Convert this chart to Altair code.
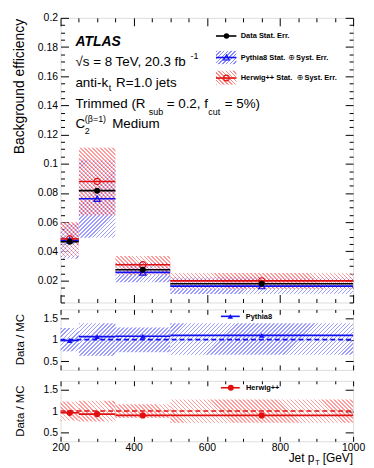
import altair as alt
import pandas as pd

# ---------------- data ----------------
bin_lo = [200, 250, 350, 500]
bin_hi = [250, 350, 500, 1000]
bin_mid = [225, 300, 425, 750]

data_eff = [0.0466, 0.0816, 0.0274, 0.0178]
pythia_eff = [0.0476, 0.0761, 0.0256, 0.0162]
pythia_band_lo = [0.0350, 0.0494, 0.0188, 0.0108]
pythia_band_hi = [0.0590, 0.1028, 0.0320, 0.0222]
herwig_eff = [0.0486, 0.0879, 0.0308, 0.0198]
herwig_band_lo = [0.0365, 0.0648, 0.0238, 0.0143]
herwig_band_hi = [0.0600, 0.1110, 0.0369, 0.0252]

ratio_pythia = [0.98, 1.07, 1.08, 1.10]
ratio_pythia_lo = [0.73, 0.63, 0.71, 0.65]
ratio_pythia_hi = [1.27, 1.38, 1.28, 1.38]
ratio_herwig = [0.96, 0.93, 0.90, 0.90]
ratio_herwig_lo = [0.78, 0.76, 0.84, 0.73]
ratio_herwig_hi = [1.22, 1.24, 1.16, 1.27]

x_major = [200, 400, 600, 800, 1000]
x_minor = [250, 300, 350, 450, 500, 550, 650, 700, 750, 850, 900, 950]
main_major = [0.02, 0.04, 0.06, 0.08, 0.1, 0.12, 0.14, 0.16, 0.18, 0.2]
main_minor = [0.005, 0.01, 0.015, 0.025, 0.03, 0.035, 0.045, 0.05, 0.055,
              0.065, 0.07, 0.075, 0.085, 0.09, 0.095, 0.105, 0.11, 0.115,
              0.125, 0.13, 0.135, 0.145, 0.15, 0.155, 0.165, 0.17, 0.175,
              0.185, 0.19, 0.195]
ratio_major = [0.5, 1.0, 1.5]

X_DOM = [200, 1000]
MAIN_DOM = [0.005, 0.2]
RATIO_DOM = [0.3, 1.7]

# ---------------- style ----------------
FONT = "Liberation Sans"
W = 295
H_MAIN = 287
H_RATIO = 61
BLUE = "#1010f0"
RED = "#e01010"
BLUE_HATCH = "#3c3cff"
RED_HATCH = "#ff3c3c"
HATCH_OP = 0.5
TS = 13.5  # label text size

xs = alt.Scale(domain=X_DOM, nice=False, zero=False)


def yscale(dom):
    return alt.Scale(domain=dom, nice=False, zero=False)


def hatch(w, h, color, direction, period=4.0, frac=0.4):
    """Striped linear gradient giving 45-degree hatching inside a w x h box."""
    n = max(1, int(round((w + h) / period)))
    s = (w + h) * w / (w * w + h * h)
    clear = "#ffffff"
    stops = []
    for i in range(n):
        a = i / n
        b = (i + frac) / n
        c = (i + 1) / n
        stops += [{"offset": a, "color": color}, {"offset": b, "color": color},
                  {"offset": b, "color": clear}, {"offset": c, "color": clear}]
    if direction == "/":
        return {"gradient": "linear", "x1": 0, "y1": 0, "x2": s, "y2": s * h / w, "stops": stops}
    return {"gradient": "linear", "x1": 0, "y1": 1, "x2": s, "y2": 1 - s * h / w, "stops": stops}


def band_layers(lo, hi, color, direction, dom, height):
    out = []
    for i in range(len(bin_lo)):
        df = pd.DataFrame({"x0": [bin_lo[i]], "x1": [bin_hi[i]], "lo": [lo[i]], "hi": [hi[i]]})
        w = (bin_hi[i] - bin_lo[i]) / (X_DOM[1] - X_DOM[0]) * W
        h = (hi[i] - lo[i]) / (dom[1] - dom[0]) * height
        out.append(alt.Chart(df).mark_rect(fill=hatch(w, h, color, direction),
                                           strokeWidth=0, opacity=HATCH_OP).encode(
            x=alt.X("x0:Q", scale=xs, axis=None), x2="x1:Q",
            y=alt.Y("lo:Q", scale=yscale(dom), axis=None), y2="hi:Q"))
    return out


def step_layer(vals, color, dom, width=1.6):
    df = pd.DataFrame({"x0": bin_lo, "x1": bin_hi, "v": vals})
    return alt.Chart(df).mark_rule(color=color, strokeWidth=width).encode(
        x=alt.X("x0:Q", scale=xs, axis=None), x2="x1:Q",
        y=alt.Y("v:Q", scale=yscale(dom), axis=None))


def point_layer(vals, dom, shape, color, filled, size):
    df = pd.DataFrame({"x": bin_mid, "v": vals})
    return alt.Chart(df).mark_point(shape=shape, color=color, filled=filled,
                                    size=size, opacity=1, strokeWidth=1.2).encode(
        x=alt.X("x:Q", scale=xs, axis=None),
        y=alt.Y("v:Q", scale=yscale(dom), axis=None))


def unity_layer(color):
    df = pd.DataFrame({"x0": [X_DOM[0]], "x1": [X_DOM[1]], "v": [1.0]})
    return alt.Chart(df).mark_rule(color=color, strokeWidth=1.6, strokeDash=[5, 3]).encode(
        x=alt.X("x0:Q", scale=xs, axis=None), x2="x1:Q",
        y=alt.Y("v:Q", scale=yscale(RATIO_DOM), axis=None))


def txt(s, x, y, size=TS, weight="normal", style="normal", align="left",
        baseline="alphabetic", angle=0, color="black", font=FONT):
    df = pd.DataFrame({"t": [s]})
    return alt.Chart(df).mark_text(
        align=align, baseline=baseline, fontSize=size, fontWeight=weight,
        fontStyle=style, font=font, color=color, angle=angle).encode(
        x=alt.value(x), y=alt.value(y), text="t:N")


def leg_line(x1, x2, y, color, width=1.6):
    df = pd.DataFrame({"k": [0]})
    return alt.Chart(df).mark_rule(color=color, strokeWidth=width).encode(
        x=alt.value(x1), x2=alt.value(x2), y=alt.value(y))


def leg_box(x1, x2, y1, y2, color, direction):
    df = pd.DataFrame({"k": [0]})
    return alt.Chart(df).mark_rect(fill=hatch(x2 - x1, y2 - y1, color, direction),
                                   strokeWidth=0, opacity=HATCH_OP + 0.1).encode(
        x=alt.value(x1), x2=alt.value(x2), y=alt.value(y1), y2=alt.value(y2))


def leg_marker(x, y, shape, color, filled, size):
    df = pd.DataFrame({"k": [0]})
    return alt.Chart(df).mark_point(shape=shape, color=color, filled=filled, size=size,
                                    opacity=1, strokeWidth=1.2).encode(
        x=alt.value(x), y=alt.value(y))


def axis_layers(dom, ymajor, yminor, yfmt, xlabels, xmaj_size, xmin_size, ymaj_size, ymin_size):
    df = pd.DataFrame({"x": [600], "y": [(dom[0] + dom[1]) / 2]})

    def ax(orient, values, size, labels=False, expr=None, pad=3):
        kw = {}
        if expr is not None:
            kw["labelExpr"] = expr
        return alt.Axis(orient=orient, values=values, tickSize=size, offset=-size,
                        labels=labels, domain=False, grid=False, ticks=True,
                        tickColor="black", tickWidth=1, title=None,
                        labelFont=FONT, labelFontSize=10.5, labelColor="black",
                        labelPadding=pad, labelFlush=False, labelOverlap=False, **kw)

    xexpr = "format(datum.value, 'd')"
    yexpr = "format(datum.value, '" + yfmt + "')"

    def lay(xa, ya):
        return alt.Chart(df).mark_point(opacity=0, size=0).encode(
            x=alt.X("x:Q", scale=xs, axis=xa),
            y=alt.Y("y:Q", scale=yscale(dom), axis=ya))

    layers = [
        lay(ax("bottom", x_major, xmaj_size, xlabels, xexpr, 1),
            ax("left", ymajor, ymaj_size, True, yexpr, 3)),
        lay(ax("bottom", x_minor, xmin_size), ax("right", ymajor, ymaj_size)),
        lay(ax("top", x_major, xmaj_size), None if not yminor else ax("left", yminor, ymin_size)),
        lay(ax("top", x_minor, xmin_size), None if not yminor else ax("right", yminor, ymin_size)),
    ]
    return layers


LEG = dict(size=7.5, weight="bold", baseline="middle")
OPLUS = dict(size=8, baseline="middle", align="center", font="DejaVu Sans")

# ---------------- main panel (origin at plot top-left) ----------------
main_layers = (
    band_layers(pythia_band_lo, pythia_band_hi, BLUE_HATCH, "/", MAIN_DOM, H_MAIN)
    + band_layers(herwig_band_lo, herwig_band_hi, RED_HATCH, "\\", MAIN_DOM, H_MAIN)
    + [
        step_layer(pythia_eff, BLUE, MAIN_DOM),
        step_layer(herwig_eff, RED, MAIN_DOM),
        step_layer(data_eff, "black", MAIN_DOM),
        point_layer(pythia_eff, MAIN_DOM, "triangle-up", BLUE, False, 38),
        point_layer(herwig_eff, MAIN_DOM, "circle", RED, False, 40),
        point_layer(data_eff, MAIN_DOM, "circle", "black", True, 36),
        # labels
        txt("ATLAS", 15, 28, size=14, weight="bold", style="italic"),
        txt("√s = 8 TeV, 20.3 fb", 15, 49),
        txt("-1", 131, 41.5, size=9),
        txt("anti-k", 15, 70),
        txt("t", 48.5, 74, size=9),
        txt("R=1.0 jets", 56, 70),
        txt("Trimmed (R", 15, 91),
        txt("sub", 89, 97.5, size=9),
        txt("= 0.2, f", 107, 91),
        txt("cut", 149, 97.5, size=9),
        txt("= 5%)", 165.5, 91),
        txt("C", 15, 111.5),
        txt("2", 24.5, 117.5, size=9),
        txt("(β=1)", 24.5, 105, size=9),
        txt("Medium", 52, 111.5),
        # legend
        leg_line(156.7, 177.3, 18.3, "black"),
        leg_marker(167.3, 18.3, "circle", "black", True, 30),
        txt("Data Stat. Err.", 181.7, 18.3, **LEG),
        leg_box(156.7, 177.3, 33.3, 46.7, BLUE_HATCH, "/"),
        leg_line(156.7, 177.3, 40, BLUE),
        leg_marker(167.3, 40, "triangle-up", BLUE, False, 34),
        txt("Pythia8 Stat.", 181.7, 40, **LEG),
        txt("⊕", 233, 40, **OPLUS),
        txt("Syst. Err.", 237.5, 40, **LEG),
        leg_box(156.7, 177.3, 53.3, 67.3, RED_HATCH, "\\"),
        leg_line(156.7, 177.3, 60.7, RED),
        leg_marker(167.3, 60.7, "circle", RED, False, 34),
        txt("Herwig++ Stat.", 181.7, 60.7, **LEG),
        txt("⊕", 241.5, 60.7, **OPLUS),
        txt("Syst. Err.", 246, 60.7, **LEG),
        # y title
        txt("Background efficiency", -37, 1, size=14, align="right", angle=270),
    ]
    + axis_layers(MAIN_DOM, main_major, main_minor, ".2~f", False, 8, 4, 8, 4)
)

main = alt.layer(*main_layers).resolve_axis(x="independent", y="independent").properties(
    width=W, height=H_MAIN)

# ---------------- ratio panel 1 (Data / Pythia8) ----------------
r1_layers = (
    band_layers(ratio_pythia_lo, ratio_pythia_hi, BLUE_HATCH, "/", RATIO_DOM, H_RATIO)
    + [
        unity_layer(BLUE),
        step_layer(ratio_pythia, BLUE, RATIO_DOM),
        point_layer(ratio_pythia, RATIO_DOM, "triangle-up", BLUE, True, 32),
        leg_line(161.7, 180.7, 7, BLUE),
        leg_marker(171.2, 7, "triangle-up", BLUE, True, 30),
        txt("Pythia8", 186.7, 7.5, **LEG),
        txt("Data / MC", -37, 30.5, size=11.5, align="center", angle=270),
        alt.Chart(pd.DataFrame({"k": [0]})).mark_rect(opacity=0).encode(
            x=alt.value(0), x2=alt.value(4), y=alt.value(H_RATIO), y2=alt.value(H_RATIO + 4)),
    ]
    + axis_layers(RATIO_DOM, ratio_major, None, ".1~f", False, 5, 3, 8, 4)
)

r1 = alt.layer(*r1_layers).resolve_axis(x="independent", y="independent").properties(
    width=W, height=H_RATIO)

# ---------------- ratio panel 2 (Data / Herwig++) ----------------
r2_layers = (
    band_layers(ratio_herwig_lo, ratio_herwig_hi, RED_HATCH, "\\", RATIO_DOM, H_RATIO)
    + [
        unity_layer(RED),
        step_layer(ratio_herwig, RED, RATIO_DOM),
        point_layer(ratio_herwig, RATIO_DOM, "circle", RED, True, 40),
        leg_line(161.7, 180.7, 7, RED),
        leg_marker(171.7, 7, "circle", RED, True, 36),
        txt("Herwig++", 187, 7.5, **LEG),
        txt("Data / MC", -37, 30.5, size=11.5, align="center", angle=270),
        txt("Jet p", 256, 82, size=12, align="right"),
        txt("T", 256.5, 85, size=8),
        txt("[GeV]", 295, 82, size=12, align="right"),
    ]
    + axis_layers(RATIO_DOM, ratio_major, None, ".1~f", True, 5, 3, 8, 4)
)

r2 = alt.layer(*r2_layers).resolve_axis(x="independent", y="independent").properties(
    width=W, height=H_RATIO)

chart = alt.vconcat(main, r1, r2, spacing=5).properties(
    padding={"left": 4, "top": 2, "right": 0, "bottom": 0}
).configure_view(stroke="black", strokeWidth=1).configure(background="white")

chart.save("out.html", embed_options={"renderer": "svg", "actions": False})
